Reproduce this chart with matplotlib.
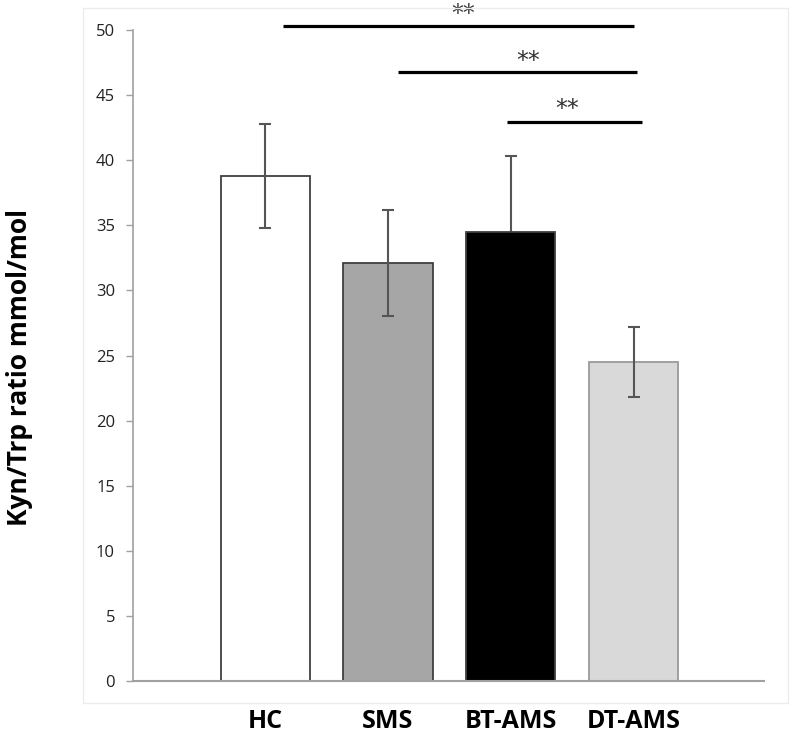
import matplotlib
matplotlib.use('Agg')
import matplotlib.pyplot as plt
from matplotlib.patches import Rectangle

groups = ['HC', 'SMS', 'BT-AMS', 'DT-AMS']
ratio_mean = [38.8, 32.1, 34.5, 24.5]
ratio_err = [4.0, 4.1, 5.8, 2.7]
bar_colors = ['#ffffff', '#a6a6a6', '#000000', '#d9d9d9']
edge_colors = ['#404040', '#404040', '#404040', '#9a9a9a']

# significance brackets
sig_start = [0.145, 1.083, 1.97]
sig_end = [3.0, 3.03, 3.07]
sig_y = [50.3, 46.75, 42.95]
star_x = [1.61, 2.14, 2.46]
star_y = [51.2, 47.6, 43.9]

plt.rcParams['font.family'] = ['Open Sans', 'DejaVu Sans']

fig = plt.figure(figsize=(7.92, 7.33), dpi=100)
ax = fig.add_axes([133 / 792, 1 - 681 / 733, (764 - 133) / 792, (681 - 30) / 733])

# faint outer frame
fig.patches.append(Rectangle((83 / 792, 1 - 703 / 733), (788 - 83) / 792, (703 - 8) / 733,
                             transform=fig.transFigure, fill=False, edgecolor='#ececec', lw=1))

x = list(range(len(groups)))
ax.bar(x, ratio_mean, width=0.725, color=bar_colors, edgecolor=edge_colors, linewidth=1.3, zorder=2)
# error bars drawn per bar: the one on the black bar sits behind it, so only the upper half shows
for xi, m, e, fc in zip(x, ratio_mean, ratio_err, bar_colors):
    z = 1 if fc == '#000000' else 3
    ax.errorbar(xi, m, yerr=e, fmt='none', ecolor='#555555', elinewidth=1.5,
                capsize=4, capthick=1.5, zorder=z)

for x0, x1, y in zip(sig_start, sig_end, sig_y):
    ax.plot([x0, x1], [y, y], color='black', lw=2.3, clip_on=False, solid_capstyle='butt')
for sx, sy in zip(star_x, star_y):
    ax.text(sx, sy, '**', ha='center', va='center', fontsize=17, color='#333333',
            family='DejaVu Sans', clip_on=False)

ax.set_xlim(-1.075, 4.06)
ax.set_ylim(0, 50)
ax.set_yticks(range(0, 51, 5))
ax.set_xticks(x)
ax.set_xticklabels(groups, fontsize=18, fontweight='bold')
ax.tick_params(axis='x', length=0, pad=20)
ax.tick_params(axis='y', length=5, width=1, color='#a0a0a0', labelsize=12, pad=8, labelcolor='#222222')

for side in ['top', 'right']:
    ax.spines[side].set_visible(False)
ax.spines['left'].set_color('#a0a0a0')
ax.spines['bottom'].set_color('#a0a0a0')
ax.spines['left'].set_linewidth(1.2)
ax.spines['bottom'].set_linewidth(1.5)

fig.text(20 / 792, 1 - 368 / 733, 'Kyn/Trp ratio mmol/mol', rotation=90, ha='center', va='center',
         fontsize=19, fontweight='bold')

plt.savefig('out.png', dpi=100)
plt.close()
